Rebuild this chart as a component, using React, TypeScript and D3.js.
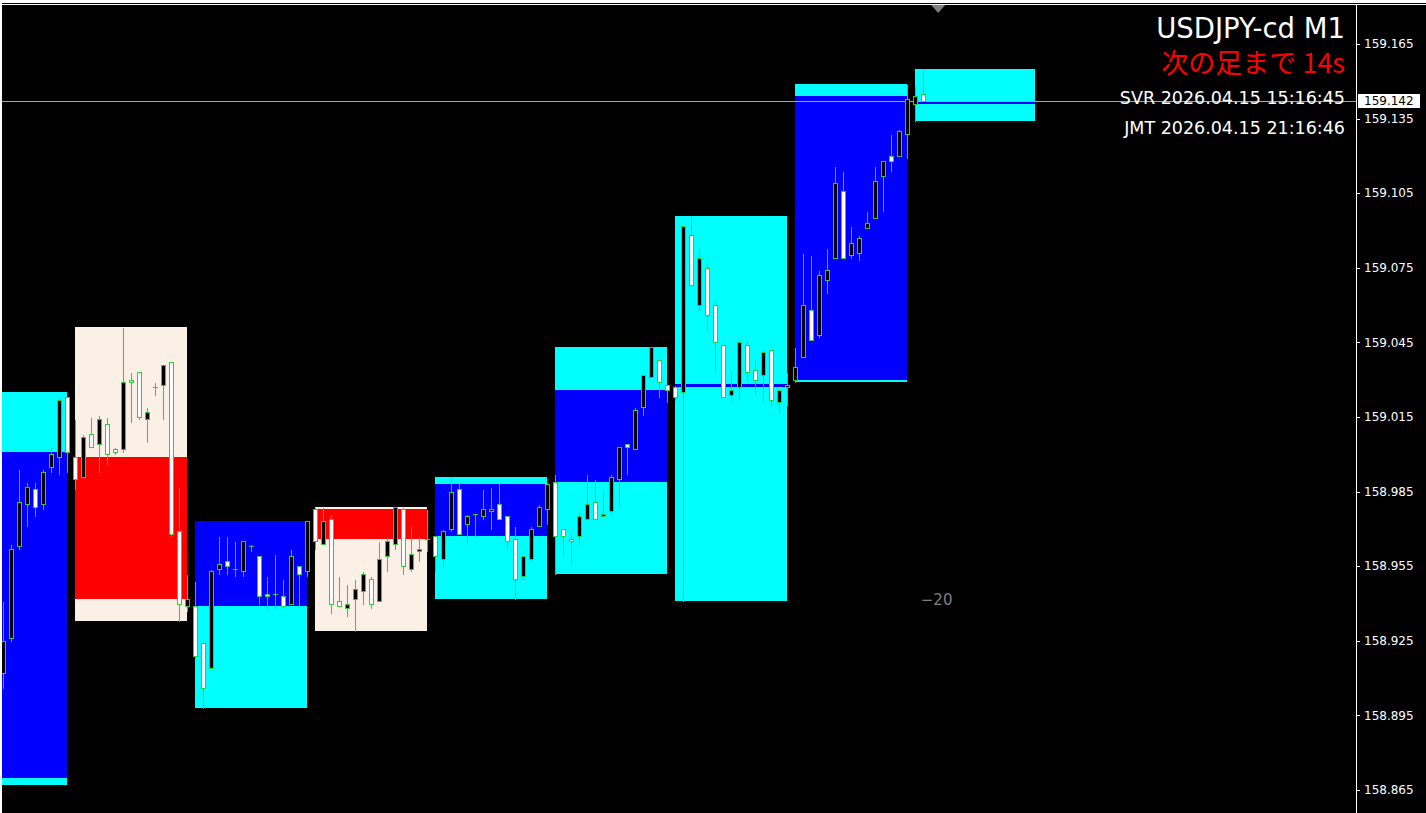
import * as d3 from "d3";

// M1 candles, oldest first (USDJPY-cd)
const candleOpen = [
  158.912, 158.926, 158.963, 158.980, 158.986, 158.980, 158.995, 158.999, 159.023, 158.999,
  158.991, 159.008, 159.004, 159.012, 159.002, 159.002, 159.030, 159.033, 159.014, 159.027,
  159.028, 159.037, 158.969, 158.939, 158.939, 158.924, 158.914, 158.954, 158.957, 158.954,
  158.953, 158.963, 158.959, 158.944, 158.944, 158.943, 158.940, 158.955, 158.953, 158.978,
  158.964, 158.974, 158.941, 158.938, 158.942, 158.945, 158.950, 158.941, 158.959, 158.964,
  158.978, 158.954, 158.961, 158.966, 158.967, 158.958, 158.970, 158.986, 158.972, 158.976,
  158.975, 158.977, 158.980, 158.975, 158.966, 158.951, 158.958, 158.971, 158.978, 158.989,
  158.970, 158.966, 158.967, 158.974, 158.981, 158.975, 158.977, 158.990, 159.004, 159.002,
  159.019, 159.031, 159.038, 159.028, 159.027, 159.025, 159.088, 159.060, 159.075, 159.060,
  159.044, 159.024, 159.027, 159.044, 159.034, 159.032, 159.042, 159.021, 159.027, 159.030,
  159.039, 159.058, 159.048, 159.070, 159.079, 159.106, 159.080, 159.081, 159.091, 159.095,
  159.112, 159.120, 159.120, 159.129, 159.141, 159.145,
];
const candleHigh = [
  158.941, 158.964, 158.994, 158.989, 158.989, 158.994, 159.003, 159.023, 159.023, 159.014,
  159.008, 159.015, 159.016, 159.015, 159.003, 159.051, 159.033, 159.033, 159.019, 159.029,
  159.036, 159.037, 158.987, 158.952, 158.949, 158.924, 158.954, 158.967, 158.967, 158.965,
  158.965, 158.964, 158.959, 158.951, 158.960, 158.950, 158.962, 158.955, 158.973, 158.979,
  158.979, 158.976, 158.951, 158.948, 158.950, 158.953, 158.951, 158.965, 158.967, 158.979,
  158.979, 158.971, 158.967, 158.978, 158.967, 158.970, 158.991, 158.989, 158.976, 158.976,
  158.986, 158.987, 158.989, 158.975, 158.971, 158.959, 158.971, 158.980, 158.989, 158.992,
  158.970, 158.968, 158.977, 158.992, 158.990, 158.986, 158.992, 159.003, 159.004, 159.019,
  159.032, 159.043, 159.038, 159.028, 159.028, 159.092, 159.096, 159.083, 159.077, 159.062,
  159.044, 159.034, 159.046, 159.046, 159.038, 159.042, 159.042, 159.026, 159.033, 159.043,
  159.081, 159.080, 159.074, 159.083, 159.116, 159.114, 159.092, 159.088, 159.098, 159.116,
  159.118, 159.129, 159.131, 159.149, 159.148, 159.155,
];
const candleLow = [
  158.906, 158.925, 158.962, 158.971, 158.975, 158.978, 158.993, 158.992, 158.993, 158.986,
  158.991, 159.003, 158.993, 158.996, 159.000, 159.001, 159.013, 159.014, 159.005, 159.024,
  159.014, 158.967, 158.933, 158.937, 158.918, 158.898, 158.914, 158.952, 158.952, 158.951,
  158.951, 158.961, 158.940, 158.937, 158.938, 158.938, 158.940, 158.939, 158.951, 158.962,
  158.964, 158.936, 158.939, 158.935, 158.929, 158.940, 158.938, 158.941, 158.953, 158.962,
  158.952, 158.953, 158.957, 158.961, 158.953, 158.955, 158.969, 158.968, 158.964, 158.967,
  158.974, 158.970, 158.974, 158.962, 158.942, 158.950, 158.957, 158.971, 158.972, 158.952,
  158.959, 158.956, 158.964, 158.974, 158.974, 158.975, 158.976, 158.979, 158.992, 159.002,
  159.016, 159.031, 159.023, 159.021, 159.022, 158.941, 159.068, 159.058, 159.050, 159.033,
  159.023, 159.021, 159.022, 159.030, 159.024, 159.021, 159.020, 159.017, 159.020, 159.029,
  159.039, 159.046, 159.047, 159.065, 159.079, 159.079, 159.079, 159.078, 159.091, 159.095,
  159.098, 159.114, 159.120, 159.119, 159.134, 159.142,
];
const candleClose = [
  158.925, 158.962, 158.981, 158.987, 158.979, 158.993, 159.000, 159.022, 159.001, 158.990,
  159.007, 159.003, 159.014, 159.000, 159.001, 159.029, 159.029, 159.015, 159.017, 159.027,
  159.036, 158.968, 158.940, 158.942, 158.919, 158.906, 158.953, 158.956, 158.955, 158.954,
  158.965, 158.963, 158.943, 158.943, 158.944, 158.939, 158.959, 158.952, 158.973, 158.965,
  158.973, 158.940, 158.939, 158.940, 158.946, 158.952, 158.940, 158.958, 158.965, 158.979,
  158.955, 158.960, 158.962, 158.966, 158.959, 158.969, 158.985, 158.968, 158.975, 158.976,
  158.978, 158.978, 158.974, 158.965, 158.950, 158.959, 158.970, 158.979, 158.988, 158.967,
  158.967, 158.965, 158.975, 158.980, 158.974, 158.976, 158.991, 159.003, 159.003, 159.018,
  159.032, 159.043, 159.029, 159.026, 159.023, 159.092, 159.068, 159.079, 159.056, 159.045,
  159.023, 159.026, 159.045, 159.033, 159.030, 159.041, 159.022, 159.026, 159.028, 159.035,
  159.060, 159.046, 159.072, 159.074, 159.109, 159.079, 159.085, 159.087, 159.093, 159.110,
  159.118, 159.118, 159.130, 159.143, 159.144, 159.142,
];

// M15 boxes drawn over the M1 candles (candle index range)
const boxStart = [-6, 9, 24, 39, 54, 69, 84, 99, 114];
const boxEnd = [8, 23, 38, 53, 68, 83, 98, 113, 129];
const boxOpen = [158.870, 158.999, 158.939, 158.978, 158.967, 158.989, 159.027, 159.030, 159.141];
const boxHigh = [159.025, 159.051, 158.973, 158.979, 158.991, 159.043, 159.096, 159.149, 159.155];
const boxLow = [158.867, 158.933, 158.898, 158.929, 158.942, 158.952, 158.941, 159.029, 159.134];
const boxClose = [159.001, 158.942, 158.973, 158.966, 158.988, 159.026, 159.028, 159.144, 159.142];

const priceTicks = [158.865, 158.895, 158.925, 158.955, 158.985, 159.015, 159.045, 159.075, 159.105, 159.135, 159.165];
const bidPrice = 159.142;

const symbolLabel = "USDJPY-cd M1";
const countdownLabel = "次の足まで 14s";
const serverLabel = "SVR 2026.04.15 15:16:45";
const localLabel = "JMT 2026.04.15 21:16:46";
const shiftLabel = "\u221220";

const W = 1426;
const H = 813;
const chartLeft = 2;
const chartTop = 5;
const axisX = 1356;
const wickColor = "#32cd32";

export default function App() {
    const y = d3.scaleLinear().domain([158.865, 159.165]).range([790, 44]);
    const x = d3.scaleLinear().domain([0, 115]).range([3, 923]);
    const px = (v: number) => Math.round(v) + 0.5;

    const boxes = boxStart.map((s, i) => {
        const bull = boxClose[i] >= boxOpen[i];
        const x0 = x(s);
        const x1 = x(boxEnd[i]);
        const bodyTop = y(Math.max(boxOpen[i], boxClose[i]));
        const bodyBot = y(Math.min(boxOpen[i], boxClose[i]));
        const bh = Math.max(bodyBot - bodyTop, 3);
        return (
            <g key={"b" + i}>
                <rect x={x0} y={y(boxHigh[i])} width={x1 - x0} height={y(boxLow[i]) - y(boxHigh[i])}
                      fill={bull ? "#00ffff" : "#faf0e6"} />
                <rect x={x0} y={(bodyTop + bodyBot) / 2 - bh / 2} width={x1 - x0} height={bh}
                      fill={bull ? "#0000ff" : "#ff0000"} />
            </g>
        );
    });

    const candles = candleOpen.map((o, i) => {
        const c = candleClose[i];
        const cx = px(x(i));
        const top = px(y(Math.max(o, c)));
        const bot = px(y(Math.min(o, c)));
        return (
            <g key={"c" + i}>
                <line x1={cx} x2={cx} y1={px(y(candleHigh[i]))} y2={px(y(candleLow[i]))} stroke={wickColor} />
                {o === c ? (
                    <line x1={cx - 2.5} x2={cx + 2.5} y1={top} y2={top} stroke={wickColor} />
                ) : (
                    <rect x={cx - 2} y={top} width={4} height={Math.max(bot - top, 1)}
                          fill={c > o ? "#000000" : "#ffffff"} stroke={wickColor} />
                )}
            </g>
        );
    });

    const bidY = px(y(bidPrice));

    return (
        <svg width={W} height={H} style={{ position: "absolute", left: 0, top: 0, display: "block" }}
             shapeRendering="crispEdges">
            <defs>
                <clipPath id="plot">
                    <rect x={chartLeft} y={chartTop} width={axisX - chartLeft} height={H - chartTop} />
                </clipPath>
            </defs>
            <rect x={0} y={0} width={W} height={H} fill="#ffffff" />
            <rect x={chartLeft} y={3} width={W - chartLeft} height={1} fill="#000000" />
            <rect x={chartLeft} y={chartTop} width={W - chartLeft} height={H - chartTop} fill="#000000" />

            <g clipPath="url(#plot)">
                {boxes}
                <line x1={chartLeft} x2={axisX} y1={bidY} y2={bidY} stroke="#a8a8a8" />
                {candles}
            </g>

            {/* chart shift marker */}
            <path d={`M${x(116.9) - 7},${chartTop} L${x(116.9) + 7},${chartTop} L${x(116.9)},${chartTop + 8} Z`}
                  fill="#808080" shapeRendering="auto" />
            <text x={x(116.7)} y={605} fill="#808080" fontFamily="DejaVu Sans, sans-serif" fontSize={15}
                  textAnchor="middle">{shiftLabel}</text>

            {/* price axis */}
            <line x1={axisX + 0.5} x2={axisX + 0.5} y1={chartTop} y2={H} stroke="#ffffff" />
            {priceTicks.map(t => (
                <g key={t}>
                    <line x1={axisX} x2={axisX + 4} y1={px(y(t))} y2={px(y(t))} stroke="#ffffff" />
                    <text x={axisX + 8} y={y(t)} dy="0.35em" fill="#ffffff"
                          fontFamily="DejaVu Sans, sans-serif" fontSize={12}>{t.toFixed(3)}</text>
                </g>
            ))}
            <rect x={axisX + 2} y={y(bidPrice) - 7} width={62} height={14} fill="#ffffff" />
            <text x={axisX + 8} y={y(bidPrice)} dy="0.35em" fill="#000000"
                  fontFamily="DejaVu Sans, sans-serif" fontSize={12}>{bidPrice.toFixed(3)}</text>

            {/* info text */}
            <g textAnchor="end">
                <text x={1345} y={38} fill="#ffffff" fontSize={27.5}
                      fontFamily="DejaVu Sans, sans-serif">{symbolLabel}</text>
                <text x={1345} y={73} fill="#ff0000" fontSize={27}
                      fontFamily="'Noto Sans CJK JP', sans-serif">{countdownLabel}</text>
                <text x={1345} y={104} fill="#ffffff" fontSize={17.5}
                      fontFamily="DejaVu Sans, sans-serif">{serverLabel}</text>
                <text x={1345} y={134} fill="#ffffff" fontSize={17.5}
                      fontFamily="DejaVu Sans, sans-serif">{localLabel}</text>
            </g>
        </svg>
    );
}
